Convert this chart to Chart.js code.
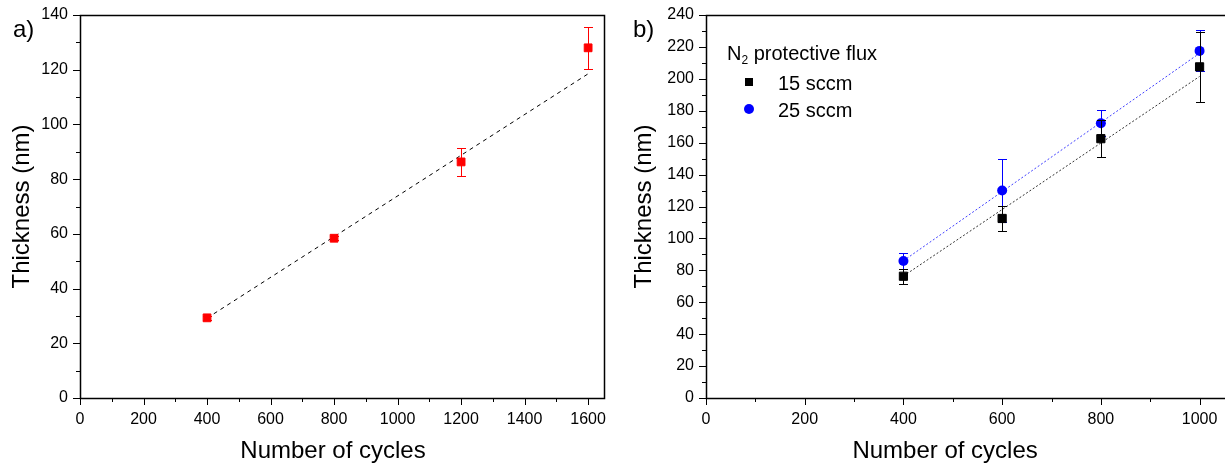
<!DOCTYPE html>
<html>
<head>
<meta charset="utf-8">
<title>Thickness vs number of cycles</title>
<script src="https://cdn.jsdelivr.net/npm/chart.js"></script>
<style>
  html, body { margin: 0; padding: 0; background: #fff; }
  body { width: 1225px; height: 465px; position: relative; overflow: hidden;
         font-family: "Liberation Sans", Arial, sans-serif; color: #000; }
  .panel { position: absolute; top: 0; height: 465px; }
  .tag { position: absolute; font-size: 24px; line-height: 24px; }
  .leg { position: absolute; font-size: 20px; line-height: 20px; white-space: nowrap; }
  .leg sub { font-size: 12px; line-height: 0; vertical-align: -4px; }
  .mk { position: absolute; }
</style>
</head>
<body>
<div class="panel" style="left:0;width:612px"><canvas id="chartA"></canvas></div>
<div class="panel" style="left:615px;width:620px"><canvas id="chartB"></canvas></div>

<div class="tag" style="left:13px;top:17px">a)</div>
<div class="tag" style="left:633px;top:17px">b)</div>

<div class="leg" style="left:727px;top:43px">N<sub>2</sub> protective flux</div>
<div class="mk" style="left:745px;top:78px;width:8px;height:8px;background:#000"></div>
<div class="leg" style="left:778px;top:73px">15 sccm</div>
<div class="mk" style="left:744px;top:104px;width:10px;height:10px;border-radius:50%;background:#0000ff"></div>
<div class="leg" style="left:778px;top:100px">25 sccm</div>

<script>
// panel a)
const cyclesA = [400, 800, 1200, 1600];
const thickA = [29.3, 58.4, 86.3, 128.0];
const errA = [0.8, 0.8, 5.0, 7.7];
const fitXA = [400, 1600];
const fitYA = [29.2, 118.5];

// panel b)
const cyclesB = [400, 600, 800, 1000];
const thick15 = [76.3, 112.5, 162.5, 207.5];
const err15 = [4.6, 7.7, 11.5, 22.0];
const thick25 = [85.8, 130.0, 172.2, 217.5];
const err25 = [5.0, 19.5, 8.0, 12.8];
const fitXB = [400, 1000];
const fit15 = [76.4, 201.5];
const fit25 = [86.0, 216.0];

const FONT = '"Liberation Sans", Arial, sans-serif';

const pts = (xs, ys) => xs.map((x, i) => ({ x: x, y: ys[i] }));

// error bars, drawn before each dataset's markers
const errorBars = {
  id: 'errorBars',
  beforeDatasetDraw(chart, args) {
    const ds = chart.data.datasets[args.index];
    if (!ds.err) return;
    const xs = chart.scales.x, ys = chart.scales.y;
    const ctx = chart.ctx;
    ctx.save();
    ctx.strokeStyle = ds.borderColor;
    ctx.lineWidth = 1;
    ds.data.forEach((p, i) => {
      const px = Math.round(xs.getPixelForValue(p.x)) + 0.5;
      const top = Math.round(ys.getPixelForValue(p.y + ds.err[i])) + 0.5;
      const bot = Math.round(ys.getPixelForValue(p.y - ds.err[i])) + 0.5;
      ctx.beginPath();
      ctx.moveTo(px, top); ctx.lineTo(px, bot);
      ctx.moveTo(px - 4.5, top); ctx.lineTo(px + 4.5, top);
      ctx.moveTo(px - 4.5, bot); ctx.lineTo(px + 4.5, bot);
      ctx.stroke();
    });
    ctx.restore();
  }
};

// frame, outward tick marks (major / minor) and the x axis title
const frame = {
  id: 'frame',
  afterDraw(chart, args, opts) {
    const { ctx, chartArea: a } = chart;
    const xs = chart.scales.x, ys = chart.scales.y;
    const xMajor = chart.options.scales.x.ticks.major;
    const yMajor = chart.options.scales.y.ticks.major;
    ctx.save();
    ctx.strokeStyle = '#000';
    ctx.lineWidth = 1;
    ctx.beginPath();
    xs.ticks.forEach(t => {
      const px = Math.round(xs.getPixelForValue(t.value)) + 0.5;
      const len = t.value % xMajor === 0 ? 7 : 4;
      ctx.moveTo(px, a.bottom); ctx.lineTo(px, a.bottom + len);
    });
    ys.ticks.forEach(t => {
      const py = Math.round(ys.getPixelForValue(t.value)) + 0.5;
      const len = t.value % yMajor === 0 ? 7 : 4;
      ctx.moveTo(a.left, py); ctx.lineTo(a.left - len, py);
    });
    ctx.stroke();
    ctx.lineWidth = 1.5;
    ctx.strokeRect(Math.round(a.left) + 0.5, Math.round(a.top) + 0.5,
                   Math.round(a.right - a.left), Math.round(a.bottom - a.top));

    ctx.fillStyle = '#000';
    ctx.font = '24px ' + FONT;
    ctx.textAlign = 'center';
    ctx.textBaseline = 'middle';
    ctx.fillText(opts.xTitle, (a.left + a.right) / 2 + opts.dx, xs.bottom - 14);
    ctx.restore();
  }
};

function axes(xMax, xStep, yMax, yStep, yWidth, yTitlePad) {
  return {
    x: {
      type: 'linear', min: 0, max: xMax,
      afterBuildTicks: s => { s.ticks = s.ticks.filter(t => t.value % xStep === 0); },
      afterFit: s => { s.height = 67; },
      border: { display: false },
      grid: { drawOnChartArea: false, drawTicks: true, tickLength: 7, color: 'transparent' },
      ticks: {
        stepSize: xStep, autoSkip: false, includeBounds: false, maxRotation: 0, padding: 5,
        major: xStep * 2, color: '#000', font: { family: FONT, size: 16 },
        callback: v => (v % (xStep * 2) === 0 ? v : '')
      },
      title: { display: false }
    },
    y: {
      type: 'linear', min: 0, max: yMax,
      afterBuildTicks: s => { s.ticks = s.ticks.filter(t => t.value % yStep === 0); },
      afterFit: s => { s.width = yWidth; },
      border: { display: false },
      grid: { drawOnChartArea: false, drawTicks: true, tickLength: 7, color: 'transparent' },
      ticks: {
        stepSize: yStep, autoSkip: false, includeBounds: false, padding: 5,
        major: yStep * 2, color: '#000', font: { family: FONT, size: 16 },
        callback: v => (v % (yStep * 2) === 0 ? v : '')
      },
      title: { display: true, text: 'Thickness (nm)', color: '#000',
               font: { family: FONT, size: 24 }, padding: { top: yTitlePad, bottom: 0 } }
    }
  };
}

const baseOptions = () => ({
  responsive: false,
  animation: false,
  events: [],
  plugins: { legend: { display: false }, tooltip: { enabled: false } }
});

const canvasA = document.getElementById('chartA');
canvasA.width = 612; canvasA.height = 465;
const optsA = baseOptions();
optsA.layout = { padding: { top: 15, right: 8, left: 0, bottom: 0 } };
optsA.scales = axes(1650, 100, 140, 10, 80, 8);
optsA.plugins.frame = { xTitle: 'Number of cycles', dx: -9 };
new Chart(canvasA, {
  type: 'scatter',
  data: {
    datasets: [
      {
        label: 'Thickness',
        data: pts(cyclesA, thickA),
        err: errA,
        pointStyle: 'rect', pointRadius: 5.5,
        backgroundColor: '#ff0000', borderColor: '#ff0000', borderWidth: 1
      },
      {
        label: 'Linear fit',
        type: 'line',
        data: pts(fitXA, fitYA),
        borderColor: '#000', borderWidth: 1, borderDash: [4, 4],
        pointRadius: 0, fill: false
      }
    ]
  },
  options: optsA,
  plugins: [errorBars, frame]
});

const canvasB = document.getElementById('chartB');
canvasB.width = 620; canvasB.height = 465;
const optsB = baseOptions();
optsB.layout = { padding: { top: 15, right: 3, left: 0, bottom: 0 } };
optsB.scales = axes(1058, 100, 240, 10, 91, 14.6);
optsB.plugins.frame = { xTitle: 'Number of cycles', dx: -22 };
new Chart(canvasB, {
  type: 'scatter',
  data: {
    datasets: [
      {
        label: '15 sccm',
        data: pts(cyclesB, thick15),
        err: err15,
        pointStyle: 'rect', pointRadius: 5.8,
        backgroundColor: '#000', borderColor: '#000', borderWidth: 1
      },
      {
        label: '15 sccm fit',
        type: 'line',
        data: pts(fitXB, fit15),
        borderColor: '#333', borderWidth: 1, borderDash: [2, 2],
        pointRadius: 0, fill: false
      },
      {
        label: '25 sccm',
        data: pts(cyclesB, thick25),
        err: err25,
        pointStyle: 'circle', pointRadius: 5,
        backgroundColor: '#0000ff', borderColor: '#0000ff', borderWidth: 0
      },
      {
        label: '25 sccm fit',
        type: 'line',
        data: pts(fitXB, fit25),
        borderColor: '#4040ff', borderWidth: 1, borderDash: [2, 2],
        pointRadius: 0, fill: false
      }
    ]
  },
  options: optsB,
  plugins: [errorBars, frame]
});
</script>
</body>
</html>
